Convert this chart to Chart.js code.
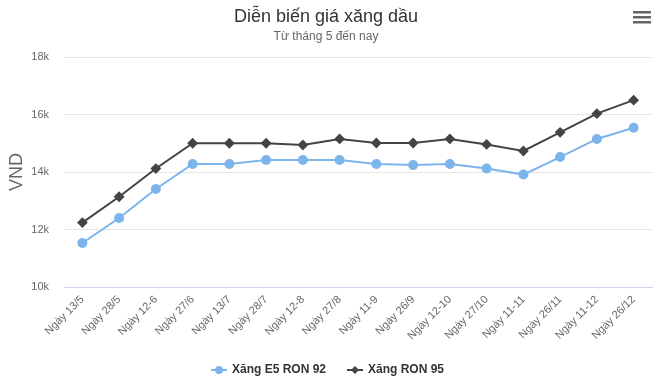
<!DOCTYPE html>
<html>
<head>
<meta charset="utf-8">
<script src="https://cdn.jsdelivr.net/npm/chart.js@4/dist/chart.umd.min.js"></script>
<style>
  html, body { margin: 0; padding: 0; background: #fff; }
  #wrap { width: 659px; height: 391px; position: relative; }
</style>
</head>
<body>
<div id="wrap"><canvas id="priceChart"></canvas></div>
<script>
// dữ liệu
const labels = ['Ngày 13/5', 'Ngày 28/5', 'Ngày 12-6', 'Ngày 27/6', 'Ngày 13/7', 'Ngày 28/7', 'Ngày 12-8', 'Ngày 27/8',
  'Ngày 11-9', 'Ngày 26/9', 'Ngày 12-10', 'Ngày 27/10', 'Ngày 11-11', 'Ngày 26/11', 'Ngày 11-12', 'Ngày 26/12'];
const ron92 = [11530, 12400, 13410, 14280, 14280, 14420, 14420, 14420, 14280, 14240, 14280, 14120, 13910, 14520, 15150, 15540];
const ron95 = [12240, 13140, 14120, 15000, 15000, 15000, 14940, 15150, 15010, 15010, 15150, 14960, 14730, 15380, 16030, 16500];
const yTicks = [10000, 12000, 14000, 16000, 18000];

const FONT = '"Liberation Sans", Arial, sans-serif';

// legend + nút menu vẽ tay
const extras = {
    id: 'extras',
    afterDraw(chart) {
        const ctx = chart.ctx;
        ctx.save();
        // menu icon
        ctx.fillStyle = '#666';
        [11, 16, 21].forEach(y => ctx.fillRect(633, y, 18, 2.5));

        const items = [
            { text: 'Xăng E5 RON 92', color: '#7cb5ec', x: 211, marker: 'circle' },
            { text: 'Xăng RON 95', color: '#434348', x: 347, marker: 'diamond' }
        ];
        const y = 370;
        ctx.font = 'bold 12px ' + FONT;
        ctx.textBaseline = 'middle';
        items.forEach(it => {
            ctx.strokeStyle = it.color;
            ctx.lineWidth = 2;
            ctx.beginPath();
            ctx.moveTo(it.x, y);
            ctx.lineTo(it.x + 16, y);
            ctx.stroke();
            ctx.fillStyle = it.color;
            ctx.beginPath();
            if (it.marker === 'circle') {
                ctx.arc(it.x + 8, y, 4, 0, Math.PI * 2);
            } else {
                ctx.moveTo(it.x + 8, y - 4);
                ctx.lineTo(it.x + 12, y);
                ctx.lineTo(it.x + 8, y + 4);
                ctx.lineTo(it.x + 4, y);
                ctx.closePath();
            }
            ctx.fill();
            ctx.fillStyle = '#333';
            ctx.fillText(it.text, it.x + 21, y);
        });
        ctx.restore();
    }
};

new Chart(document.getElementById('priceChart'), {
    type: 'line',
    data: {
        labels: labels,
        datasets: [
            {
                label: 'Xăng E5 RON 92',
                data: ron92,
                borderColor: '#7cb5ec',
                backgroundColor: '#7cb5ec',
                borderWidth: 2,
                pointStyle: 'circle',
                pointRadius: 4,
                pointHoverRadius: 5,
                tension: 0
            },
            {
                label: 'Xăng RON 95',
                data: ron95,
                borderColor: '#434348',
                backgroundColor: '#434348',
                borderWidth: 2,
                pointStyle: 'rectRot',
                pointRadius: 4,
                pointHoverRadius: 5,
                tension: 0
            }
        ]
    },
    options: {
        responsive: true,
        maintainAspectRatio: false,
        animation: false,
        layout: { padding: { left: 0, right: 7, top: 0, bottom: 0 } },
        plugins: {
            legend: { display: false },
            tooltip: { enabled: false },
            title: {
                display: true,
                text: 'Diễn biến giá xăng dầu',
                color: '#333',
                font: { family: FONT, size: 18, weight: 'normal' },
                padding: { top: 6, bottom: 2 }
            },
            subtitle: {
                display: true,
                text: 'Từ tháng 5 đến nay',
                color: '#666',
                font: { family: FONT, size: 12, weight: 'normal' },
                padding: { top: 0, bottom: 13 }
            }
        },
        scales: {
            x: {
                offset: true,
                grid: { display: false, drawTicks: false, offset: true },
                border: { color: '#ccd6eb', width: 1 },
                ticks: {
                    color: '#666',
                    font: { family: FONT, size: 11 },
                    minRotation: 45,
                    maxRotation: 45,
                    autoSkip: false,
                    padding: 6
                },
                afterFit(scale) { scale.height = 104; }
            },
            y: {
                min: 10000,
                max: 18000,
                afterBuildTicks(scale) { scale.ticks = yTicks.map(v => ({ value: v })); },
                grid: { color: '#e6e6e6', drawTicks: false },
                border: { display: false },
                ticks: {
                    color: '#666',
                    font: { family: FONT, size: 11 },
                    padding: 15,
                    callback: v => (v / 1000) + 'k'
                },
                title: {
                    display: true,
                    text: 'VND',
                    color: '#666',
                    font: { family: FONT, size: 18, weight: 'normal' },
                    padding: { top: 6, bottom: 0 }
                },
                afterFit(scale) { scale.width = 64; }
            }
        }
    },
    plugins: [extras]
});
</script>
</body>
</html>
